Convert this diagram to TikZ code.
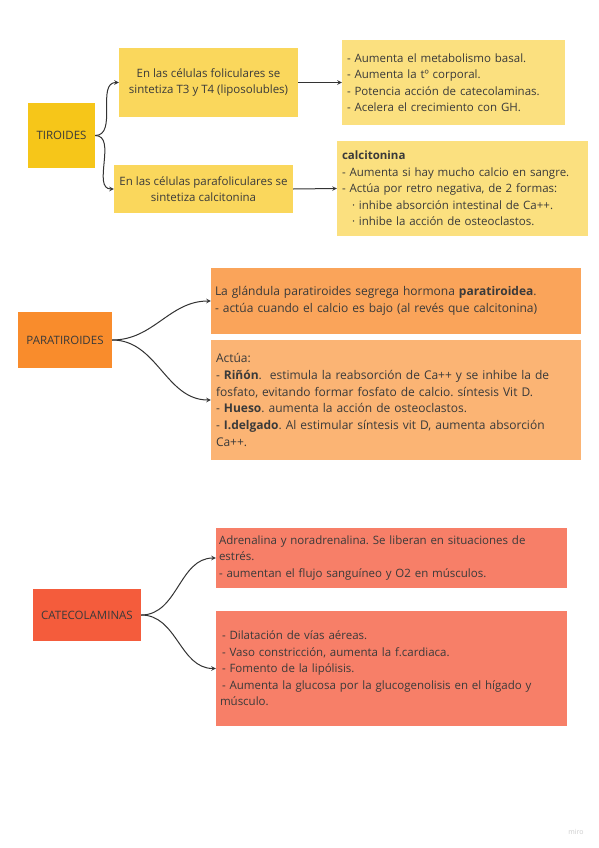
\documentclass[tikz,border=0pt]{standalone}
\usepackage{fontspec}
\setmainfont{Open Sans}
\usepackage{xcolor}
\frenchspacing
\definecolor{tirmain}{HTML}{F6C619}
\definecolor{tirmid}{HTML}{FAD75C}
\definecolor{tirlight}{HTML}{FBE07F}
\definecolor{paramain}{HTML}{F98C2C}
\definecolor{paramid}{HTML}{FAA45A}
\definecolor{paralight}{HTML}{FBB474}
\definecolor{catmain}{HTML}{F45C3C}
\definecolor{catlight}{HTML}{F77F68}
\definecolor{inktext}{HTML}{3A3A3A}
\definecolor{inkline}{HTML}{333333}

\begin{document}
\begin{tikzpicture}[x=1pt,y=-1pt,
		box/.style={rectangle, inner sep=0pt, text=inktext, font=\fontsize{11.5}{16.5}\selectfont},
		listbox/.style={box, align=left, inner xsep=4pt},
		bigtext/.style={font=\fontsize{12}{16.8}\selectfont},
		link/.style={-stealth, inkline, line width=1pt}]
			\useasboundingbox[fill=white](0,0) rectangle (599,848);
			% tiroides
			\node[box, fill=tirmain, minimum width=67pt, minimum height=65pt](tir) at (61.5,135.5){TIROIDES};
			\node[box, fill=tirmid, minimum width=179pt, minimum height=69pt, align=center](foli) at (208.5,82.5){En las células foliculares se\\sintetiza T3 y T4 (liposolubles)};
			\node[box, fill=tirmid, minimum width=179pt, minimum height=48pt, align=center](parafoli) at (203.5,189){En las células parafoliculares se\\sintetiza calcitonina};
			\node[listbox, fill=tirlight, minimum width=221pt, minimum height=85pt, text width=213pt, inner xsep=5pt](efectos) at (453.5,82.5){- Aumenta el metabolismo basal.\\- Aumenta la tº corporal.\\- Potencia acción de catecolaminas.\\- Acelera el crecimiento con GH.};
			\node[listbox, fill=tirlight, minimum width=249pt, minimum height=95pt, text width=241pt, inner xsep=5pt](calci) at (462.5,188.5){\textbf{calcitonina}\\- Aumenta si hay mucho calcio en sangre.\\- Actúa por retro negativa, de 2 formas:\\\hspace*{10pt}· inhibe absorción intestinal de Ca++.\\\hspace*{10pt}· inhibe la acción de osteoclastos.};
			\draw[link](tir.east) to[out=0,in=180] (foli.west);
			\draw[link](tir.east) to[out=0,in=180] (parafoli.west);
			\draw[link](foli.east)--(efectos.west);
			\draw[link](parafoli.east)--(calci.west);
			% paratiroides
			\node[box, fill=paramain, minimum width=94pt, minimum height=56pt](para) at (65,340){PARATIROIDES};
			\node[listbox, bigtext, fill=paramid, minimum width=370pt, minimum height=66pt, text width=362pt, inner xsep=3pt](hormona) at (396,301){La glándula paratiroides segrega hormona \textbf{paratiroidea}.\\- actúa cuando el calcio es bajo (al revés que calcitonina)};
			\node[listbox, bigtext, fill=paralight, minimum width=370pt, minimum height=120pt, text width=360pt, inner xsep=5pt](actua) at (396,400){Actúa:\\- \textbf{Riñón}.~ estimula la reabsorción de Ca++ y se inhibe la de\\fosfato, evitando formar fosfato de calcio. síntesis Vit D.\\- \textbf{Hueso}. aumenta la acción de osteoclastos.\\- \textbf{I.delgado}. Al estimular síntesis vit D, aumenta absorción\\Ca++.};
			\draw[link](para.east) to[out=0,in=180] (hormona.west);
			\draw[link](para.east) to[out=0,in=180] (actua.west);
			% catecolaminas
			\node[box, fill=catmain, minimum width=108pt, minimum height=52pt](cate) at (87,615){CATECOLAMINAS};
			\node[listbox, fill=catlight, minimum width=351pt, minimum height=60pt, text width=345pt, inner xsep=3pt](estres) at (391.5,558){Adrenalina y noradrenalina. Se liberan en situaciones de\\estrés.\\- aumentan el flujo sanguíneo y O2 en músculos.};
			\node[listbox, fill=catlight, minimum width=351pt, minimum height=115pt, text width=343pt, inner xsep=4pt](efcate) at (391.5,668.5){\hspace*{2pt}- Dilatación de vías aéreas.\\\hspace*{2pt}- Vaso constricción, aumenta la f.cardiaca.\\\hspace*{2pt}- Fomento de la lipólisis.\\\hspace*{2pt}- Aumenta la glucosa por la glucogenolisis en el hígado y\\músculo.};
			\draw[link](cate.east) to[out=0,in=180] (estres.west);
			\draw[link](cate.east) to[out=0,in=180] (efcate.west);
			\node[text=black!20, font=\fontsize{7}{8}\selectfont](miro) at (576,832){miro};
		\end{tikzpicture}
\end{document}
